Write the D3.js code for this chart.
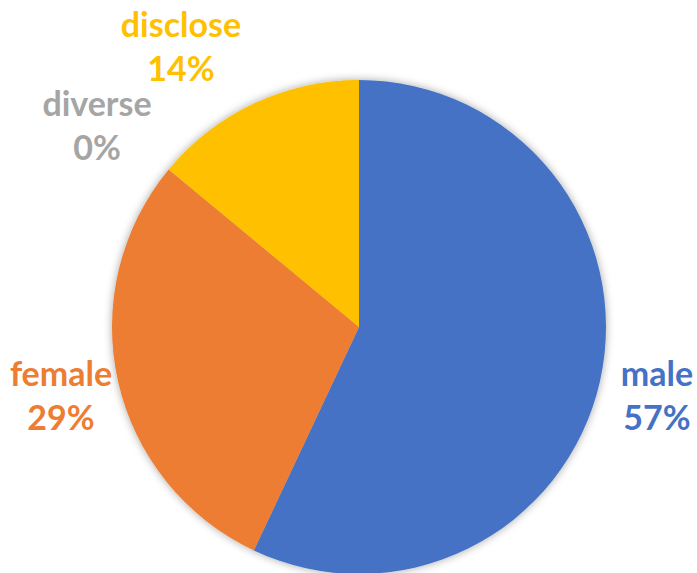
<!DOCTYPE html>
<html>
<head>
<meta charset="utf-8">
<script src="https://cdn.jsdelivr.net/npm/d3@7"></script>
<style>
  body { margin: 0; background: #fff; }
  svg { display: block; }
  .lbl { font-family: Lato, "Open Sans", sans-serif; font-weight: 700; font-size: 34px; }
</style>
</head>
<body>
<div id="chart"></div>
<script>
// данные
var categories = ["male", "female", "diverse", "disclose"];
var values = [57, 29, 0, 14];
var percentLabels = ["57%", "29%", "0%", "14%"];
var colors = ["#4472C4", "#ED7D31", "#A5A5A5", "#FFC000"];

var width = 697, height = 573;
var cx = 359, cy = 327, radius = 247;

// позиции подписей (центр, базовая линия первой строки)
var labelPos = [[657, 386], [61, 386], [97, 116], [181, 37]];
var lineGap = 44;

var svg = d3.select("#chart").append("svg")
    .attr("width", width)
    .attr("height", height);

var defs = svg.append("defs");
var f = defs.append("filter")
    .attr("id", "shadow")
    .attr("x", "-10%").attr("y", "-10%")
    .attr("width", "120%").attr("height", "120%");
f.append("feDropShadow")
    .attr("dx", 0).attr("dy", 0)
    .attr("stdDeviation", 4)
    .attr("flood-color", "#000")
    .attr("flood-opacity", 0.35);

var color = d3.scaleOrdinal().domain(categories).range(colors);

var pie = d3.pie().sort(null).value(function(d, i) { return values[i]; });
var arc = d3.arc().innerRadius(0).outerRadius(radius);

var g = svg.append("g")
    .attr("transform", "translate(" + cx + "," + cy + ")")
    .attr("filter", "url(#shadow)");

g.selectAll("path")
    .data(pie(categories))
    .enter().append("path")
    .attr("d", arc)
    .attr("fill", function(d) { return color(d.data); });

// подписи
var labels = svg.selectAll("text.lbl")
    .data(categories)
    .enter().append("text")
    .attr("class", "lbl")
    .attr("text-anchor", "middle")
    .attr("fill", function(d) { return color(d); })
    .attr("x", function(d, i) { return labelPos[i][0]; })
    .attr("y", function(d, i) { return labelPos[i][1]; });

labels.append("tspan")
    .attr("x", function(d, i) { return labelPos[i][0]; })
    .text(function(d) { return d; });
labels.append("tspan")
    .attr("x", function(d, i) { return labelPos[i][0]; })
    .attr("dy", lineGap)
    .text(function(d, i) { return percentLabels[i]; });
</script>
</body>
</html>
